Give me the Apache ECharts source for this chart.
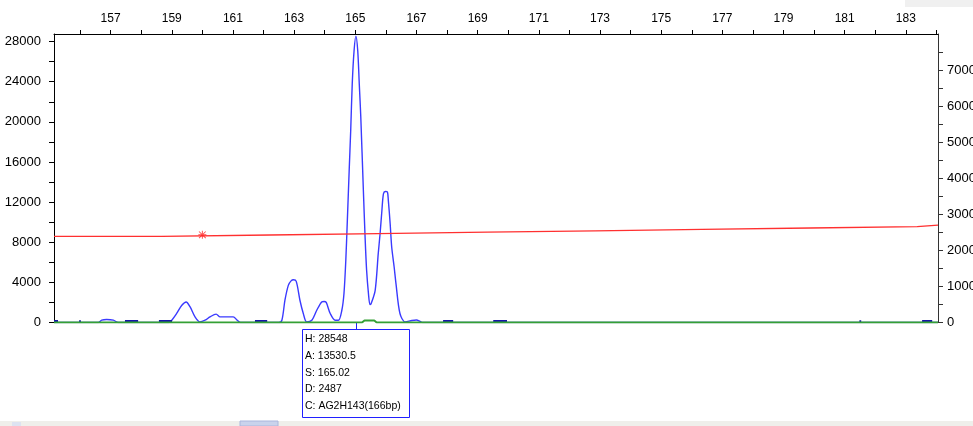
<!DOCTYPE html>
<html><head><meta charset="utf-8">
<script src="https://cdn.jsdelivr.net/npm/echarts@6/dist/echarts.min.js"></script>
<style>html,body{margin:0;padding:0;background:#fff}#c{width:973px;height:426px}</style>
</head><body><div id="c"></div>
<script>
// ---- data ----
const xMin = 155.15, xMax = 184.05;
const xTickValues = [156,157,158,159,160,161,162,163,164,165,166,167,168,169,170,171,172,173,174,175,176,177,178,179,180,181,182,183,184];
const xLabelValues = [157,159,161,163,165,167,169,171,173,175,177,179,181,183];
const yLeftTicks = [0,2000,4000,6000,8000,10000,12000,14000,16000,18000,20000,22000,24000,26000,28000];
const yLeftLabels = [0,4000,8000,12000,16000,20000,24000,28000];
const yRightTicks = [0,500,1000,1500,2000,2500,3000,3500,4000,4500,5000,5500,6000,6500,7000,7500];
const yRightLabels = [0,1000,2000,3000,4000,5000,6000,7000];

// blue trace (size in bp, height)
const blueSize = [155.15,156.6,156.71,156.87,157.09,157.25,158.9,159.0,159.16,159.33,159.47,159.6,159.76,159.92,160.09,160.25,160.45,160.58,160.74,161.01,161.14,161.25,162.5,162.6,162.7,162.81,162.9,162.98,163.07,163.19,163.3,163.41,163.58,163.74,163.9,163.98,164.05,164.18,164.34,164.45,164.56,164.63,164.69,164.74,164.8,164.85,164.9,164.96,165.02,165.08,165.13,165.18,165.26,165.32,165.37,165.43,165.48,165.52,165.65,165.75,165.81,165.87,165.92,165.98,166.05,166.08,166.14,166.19,166.27,166.33,166.46,166.63,166.85,167.0,167.12,167.2,184.05];
const blueHeight = [0,0,230,300,230,0,0,230,900,1720,2050,1550,560,60,230,560,830,560,560,560,230,0,0,230,2220,3700,4150,4260,4100,2220,900,60,230,1220,2050,2100,2000,900,230,230,1220,2890,6200,10180,15150,19130,23780,27090,28548,27090,23780,20460,13500,8520,5200,2890,1790,1900,3210,6860,8850,11170,12830,13050,13000,12170,9850,7520,5530,3880,900,60,200,250,100,0,0];

// dark blue baseline fragments [start, end, height]
const fragStart = [155.15,155.97,157.47,158.58,161.72,167.87,169.51,181.48,183.53];
const fragEnd   = [155.28,156.03,157.90,159.01,162.12,168.20,169.96,181.54,183.86];
const fragHeight= [150,120,150,150,150,150,150,120,150];

// green baseline
const greenSize = [155.15,163.25,163.3,163.35,165.22,165.3,165.62,165.7,184.05];
const greenHeight = [0,0,120,0,0,200,200,0,0];

// red size-standard line (value changes at each listed size)
const redSize = [155.15,158.67,162.21,165.74,169.31,172.84,176.34,179.87,183.37];
const redHeight = [8580,8720,8860,9000,9140,9280,9420,9560,9700];
const starPoint = [160.0, 8740];

// peak annotation
const peakInfo = {size:165.02, lines:['H: 28548','A: 13530.5','S: 165.02','D: 2487','C: AG2H143(166bp)']};

// ---- build ----
const pair = (xs, ys) => xs.map((x,i)=>[x, ys[i]]);
const fragData = [];
fragStart.forEach((s,i)=>{
  if(i>0) fragData.push([(fragEnd[i-1]+s)/2,'-']);
  fragData.push([s, fragHeight[i]]);
  fragData.push([fragEnd[i], fragHeight[i]]);
});
const redData = [];
redSize.forEach((x,i)=>{
  if(i>0) redData.push([x, redHeight[i-1]]);
  redData.push([x, redHeight[i]]);
});
redData.push([xMax, redHeight[redHeight.length-1]]);

const plain = v => String(Math.round(v));
const chart = echarts.init(document.getElementById('c'), null, {renderer:'canvas'});
const FONT = 'Liberation Sans';
chart.setOption({
  animation:false,
  backgroundColor:'#ffffff',
  grid:{left:54, top:34, width:884, height:288.5, containLabel:false, outerBoundsMode:'none'},
  xAxis:{
    type:'value', position:'top', min:xMin, max:xMax,
    axisLine:{show:true, onZero:false, lineStyle:{color:'#000', width:1}},
    axisTick:{show:true, inside:false, length:4, lineStyle:{color:'#000'}, customValues:xTickValues},
    axisLabel:{show:true, margin:9, color:'#000', fontSize:12, fontFamily:FONT, customValues:xLabelValues, formatter:plain},
    splitLine:{show:false}
  },
  yAxis:[{
    type:'value', position:'left', min:0, max:28756,
    axisLine:{show:true, lineStyle:{color:'#000', width:1}},
    axisTick:{show:true, length:5, lineStyle:{color:'#000'}, customValues:yLeftTicks},
    axisLabel:{show:true, margin:13, color:'#000', fontSize:13, fontFamily:FONT, customValues:yLeftLabels, formatter:plain},
    splitLine:{show:false}
  },{
    type:'value', position:'right', min:0, max:8000,
    axisLine:{show:true, lineStyle:{color:'#333', width:1}},
    axisTick:{show:true, length:5, lineStyle:{color:'#333'}, customValues:yRightTicks},
    axisLabel:{show:true, margin:9, color:'#000', fontSize:13, fontFamily:FONT, customValues:yRightLabels, formatter:plain},
    splitLine:{show:false}
  }],
  series:[
    {type:'line', name:'trace', data:pair(blueSize, blueHeight), showSymbol:false, smooth:0.3,
     lineStyle:{color:'#3a3aff', width:1.4}, z:2},
    {type:'line', name:'frag', data:fragData, showSymbol:false, connectNulls:false,
     lineStyle:{color:'#1414a8', width:2.2}, z:3},
    {type:'line', name:'baseline', data:pair(greenSize, greenHeight), showSymbol:false,
     lineStyle:{color:'#35a035', width:2}, z:4},
    {type:'line', name:'standard', data:redData, showSymbol:false,
     lineStyle:{color:'#ff3030', width:1.3}, z:5},
    {type:'scatter', name:'star', data:[starPoint], symbolSize:8, z:6,
     symbol:'path://M4.4,0 L5.6,0 L5.6,10 L4.4,10 Z M0,4.4 L10,4.4 L10,5.6 L0,5.6 Z M1.2,0.4 L9.6,8.8 L8.8,9.6 L0.4,1.2 Z M8.8,0.4 L9.6,1.2 L1.2,9.6 L0.4,8.8 Z',
     itemStyle:{color:'#ff2020'}}
  ]
});

const p = chart.convertToPixel({xAxisIndex:0, yAxisIndex:0}, [peakInfo.size, 0]);
const bx = Math.round(p[0]) - 53.5, by = 329.5;
const els = [
  {type:'line', shape:{x1:Math.round(p[0])+0.5, y1:p[1], x2:Math.round(p[0])+0.5, y2:by}, style:{stroke:'#2020ff', lineWidth:1}},
  {type:'rect', shape:{x:bx, y:by, width:107, height:88}, style:{fill:'#fff', stroke:'#2020ff', lineWidth:1}}
];
peakInfo.lines.forEach((t,i)=>{
  els.push({type:'text', x:bx+2.5, y:by+10+i*16.6, style:{text:t, fill:'#000', font:'10.5px "Liberation Sans"', textVerticalAlign:'middle'}});
});
// window chrome: scrollbar at bottom, grey block top right
els.push({type:'rect', shape:{x:0, y:421, width:973, height:5}, style:{fill:'#efefeb'}});
els.push({type:'rect', shape:{x:240, y:421, width:38, height:5}, style:{fill:'#c9d3ec', stroke:'#aab6dc', lineWidth:1}});
els.push({type:'rect', shape:{x:12, y:422, width:9, height:4}, style:{fill:'#dde3f1'}});
els.push({type:'rect', shape:{x:905, y:0, width:68, height:7}, style:{fill:'#f0f0f0'}});
chart.setOption({graphic:{elements:els}});
</script>
</body></html>
